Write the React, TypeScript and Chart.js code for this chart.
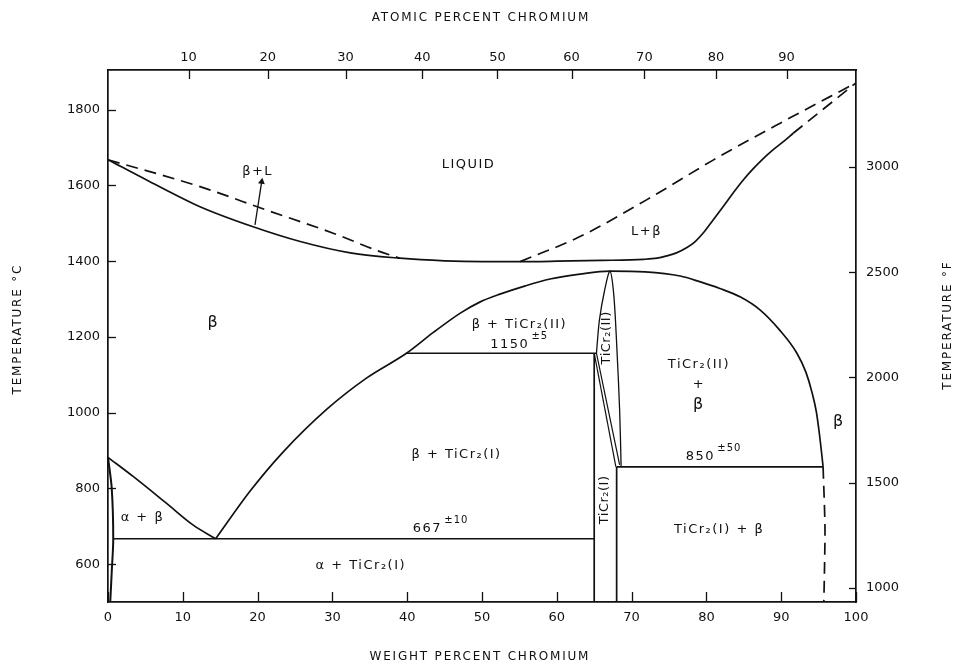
import React, { useEffect, useRef } from 'react';
import { Chart, registerables } from 'chart.js';

Chart.register(...registerables);

// ---- axis ticks ----
const weightTicks = [0, 10, 20, 30, 40, 50, 60, 70, 80, 90, 100];
const atomicTicks = [10, 20, 30, 40, 50, 60, 70, 80, 90];
const celsiusTicks = [600, 800, 1000, 1200, 1400, 1600, 1800];
const fahrenheitTicks = [1000, 1500, 2000, 2500, 3000];

const T_MIN = 500;
const T_MAX = 1905;

// ---- phase boundaries: [weight % Cr, temperature °C] ----
const liquidusSolid = [
  [0, 1668], [5.6, 1610], [12.3, 1544], [19.4, 1491], [25.7, 1452], [32.4, 1422],
  [39, 1408], [45, 1401], [50, 1399], [55, 1399], [60, 1400], [66, 1402],
  [71.6, 1405], [73.4, 1408], [74.7, 1414], [76.0, 1422], [77.4, 1436], [78.5, 1452],
  [79.6, 1475], [80.9, 1509], [82.3, 1546], [83.6, 1581], [84.9, 1614], [86.3, 1645],
  [87.6, 1671], [88.9, 1694], [90.3, 1716], [91.6, 1738],
];
const liquidusLeftDashed = [
  [0, 1668], [12.3, 1597], [21.2, 1535], [30.1, 1474], [36, 1428], [39, 1408],
];
const liquidusRightDashed = [
  [55.1, 1399], [63.1, 1465], [72.0, 1562], [80.9, 1667], [89.8, 1764], [100, 1871],
];
const solidusCrDashed = [[91.6, 1738], [100, 1871]];

const betaSolvusDome = [
  [14.4, 667], [19.0, 793], [23.4, 896], [29.3, 1010], [34.6, 1092], [39.9, 1157],
  [43.5, 1212], [47.1, 1263], [49.7, 1292], [52.4, 1313], [55.8, 1335], [59.1, 1353],
  [63.1, 1366], [67.1, 1374], [71.8, 1372], [76.5, 1361], [79.1, 1346], [81.8, 1328],
  [84.5, 1306], [87.2, 1271], [89.8, 1218], [92.1, 1157], [93.3, 1107], [94.1, 1055],
  [94.7, 1002], [95.1, 945], [95.45, 885], [95.6, 857],
];
const betaSolvusDashed = [[95.6, 857], [95.85, 700], [95.8, 600], [95.7, 500]];

const betaTransus = [[0, 882], [3.4, 831], [7.8, 761], [11.4, 703], [14.4, 667]];
const alphaSolvus = [[0, 882], [0.5, 800], [0.7, 667], [0.5, 580], [0.3, 500]];

const eutectoid667 = [[0.7, 667], [65, 667]];
const peritectoid1150 = [[39.9, 1157], [65.3, 1157]];
const eutectoid850 = [[68, 857], [95.6, 857]];
const ticr2ILeft = [[65, 1157], [65, 500]];
const ticr2IRight = [[68, 857], [68, 500]];
const ticr2Slant1 = [[65, 1157], [67.9, 857]];
const ticr2Slant2 = [[65.3, 1157], [68.4, 862]];
const ticr2IILens = [
  [65.3, 1157], [65.7, 1245], [66.4, 1324], [67.1, 1374], [67.6, 1315],
  [68.0, 1183], [68.4, 1007], [68.6, 857],
];
const arrowBetaL = [[19.65, 1496], [20.55, 1610]];

// ---- annotations (anchor in data units) ----
const regionLabels = [
  { text: 'LIQUID', x: 48.1, y: 1655 },
  { text: 'β+L', x: 19.9, y: 1636 },
  { text: 'L+β', x: 71.9, y: 1477 },
  { text: 'β', x: 14.0, y: 1237, size: 16 },
  { text: 'β + TiCr₂(II)', x: 54.9, y: 1232 },
  { text: '1150', x: 53.6, y: 1179, sup: '±5' },
  { text: 'TiCr₂(II)', x: 66.7, y: 1197, rot: -90, spacing: 0.5 },
  { text: 'TiCr₂(II)', x: 78.9, y: 1126 },
  { text: '+', x: 78.9, y: 1073 },
  { text: 'β', x: 78.9, y: 1020, size: 16 },
  { text: 'β', x: 97.6, y: 975, size: 16 },
  { text: 'β + TiCr₂(I)', x: 46.5, y: 888 },
  { text: 'TiCr₂(I)', x: 66.4, y: 769, rot: -90, spacing: 0.5 },
  { text: '850', x: 79.1, y: 885, sup: '±50' },
  { text: 'α + β', x: 4.5, y: 722 },
  { text: '667', x: 42.6, y: 695, sup: '±10' },
  { text: 'α + TiCr₂(I)', x: 33.7, y: 595 },
  { text: 'TiCr₂(I) + β', x: 81.6, y: 690 },
];

const TI_MASS = 47.87;
const CR_MASS = 52.0;
const atomicToWeight = (a: number) => (100 * a * CR_MASS) / (a * CR_MASS + (100 - a) * TI_MASS);
const cToF = (c: number) => c * 1.8 + 32;

const FONT = '"DejaVu Sans", sans-serif';
const INK = '#111';

const pts = (arr: number[][]) => arr.map(([x, y]) => ({ x, y }));

function line(data: number[][], opts: any = {}) {
  return {
    data: pts(data),
    showLine: true,
    borderColor: INK,
    backgroundColor: INK,
    borderWidth: 1.7,
    pointRadius: 0,
    pointHoverRadius: 0,
    tension: 0,
    fill: false,
    ...opts,
  };
}
const smooth = { cubicInterpolationMode: 'monotone' };
const DASH = [12, 7];

const drawText = (ctx: any, text: string, x: number, y: number, rot: number, size: number, spacing: number) => {
  ctx.save();
  ctx.translate(x, y);
  if (rot) ctx.rotate((rot * Math.PI) / 180);
  ctx.font = `${size}px ${FONT}`;
  ctx.letterSpacing = `${spacing}px`;
  ctx.textAlign = 'center';
  ctx.textBaseline = 'middle';
  ctx.fillText(text, spacing / 2, 0);
  ctx.restore();
};

const annotationPlugin = {
  id: 'phaseAnnotations',
  beforeDatasetsDraw(chart: any) {
    // inward tick marks on all four axes
    const { ctx, chartArea, scales } = chart;
    const { left, right, top, bottom } = chartArea;
    ctx.save();
    ctx.strokeStyle = INK;
    ctx.lineWidth = 1.3;
    const marks = (scale: any, len: number, side: string) => {
      for (const t of scale.ticks) {
        const p = Math.round(scale.getPixelForValue(t.value)) + 0.5;
        ctx.beginPath();
        if (side === 'bottom') { ctx.moveTo(p, bottom); ctx.lineTo(p, bottom - len); }
        if (side === 'top') { ctx.moveTo(p, top); ctx.lineTo(p, top + len); }
        if (side === 'left') { ctx.moveTo(left, p); ctx.lineTo(left + len, p); }
        if (side === 'right') { ctx.moveTo(right, p); ctx.lineTo(right - len, p); }
        ctx.stroke();
      }
    };
    marks(scales.x, 10, 'bottom');
    marks(scales.x2, 9, 'top');
    marks(scales.y, 8, 'left');
    marks(scales.y2, 7, 'right');
    ctx.restore();
  },
  afterDatasetsDraw(chart: any) {
    const { ctx, scales, chartArea } = chart;
    const xs = scales.x;
    const ys = scales.y;
    ctx.save();
    ctx.fillStyle = INK;
    for (const l of regionLabels as any[]) {
      const px = xs.getPixelForValue(l.x);
      const py = ys.getPixelForValue(l.y);
      const size = l.size || 13;
      const spacing = l.spacing ?? 1.5;
      drawText(ctx, l.text, px, py, l.rot || 0, size, spacing);
      if (l.sup) {
        ctx.save();
        ctx.font = `${size}px ${FONT}`;
        ctx.letterSpacing = `${spacing}px`;
        const w = ctx.measureText(l.text).width;
        ctx.font = `10px ${FONT}`;
        ctx.letterSpacing = '1px';
        ctx.textAlign = 'left';
        ctx.textBaseline = 'middle';
        ctx.fillText(l.sup, px + w / 2 + 3, py - 8);
        ctx.restore();
      }
    }
    // axis titles
    const cx = (chartArea.left + chartArea.right) / 2;
    const cy = (chartArea.top + chartArea.bottom) / 2;
    drawText(ctx, 'ATOMIC PERCENT CHROMIUM', cx - 2, 18, 0, 12, 1.8);
    drawText(ctx, 'WEIGHT PERCENT CHROMIUM', cx - 3, 657, 0, 12, 1.8);
    drawText(ctx, 'TEMPERATURE °C', 18, cy - 6, -90, 12, 1.8);
    drawText(ctx, 'TEMPERATURE °F', chart.width - 7, cy - 10, -90, 12, 1.8);
    ctx.restore();
  },
};

export default function App() {
  const canvasRef = useRef<HTMLCanvasElement | null>(null);

  useEffect(() => {
    if (!canvasRef.current) return;
    const tickFont = { family: FONT, size: 13 };
    const border = { display: true, color: INK, width: 1.7 };
    const grid = { drawOnChartArea: false, drawTicks: false, color: INK };
    const plain = (v: any) => String(v);

    const chart = new Chart(canvasRef.current, {
      type: 'scatter',
      data: {
        datasets: [
          line(liquidusSolid, smooth),
          line(liquidusLeftDashed, { ...smooth, borderDash: DASH }),
          line(liquidusRightDashed, { ...smooth, borderDash: DASH }),
          line(solidusCrDashed, { borderDash: DASH }),
          line(betaSolvusDome, smooth),
          line(betaSolvusDashed, { tension: 0.3, borderDash: DASH }),
          line(betaTransus, smooth),
          line(alphaSolvus, { tension: 0.3, borderWidth: 2 }),
          line(eutectoid667),
          line(peritectoid1150),
          line(eutectoid850),
          line(ticr2ILeft),
          line(ticr2IRight),
          line(ticr2Slant1, { borderWidth: 1.2 }),
          line(ticr2Slant2, { borderWidth: 1.2 }),
          line(ticr2IILens, { tension: 0.3, borderWidth: 1.3 }),
          line(arrowBetaL, {
            borderWidth: 1.3,
            pointRadius: [0, 4],
            pointStyle: 'triangle',
            pointRotation: 9,
            pointBorderWidth: 0,
            pointBackgroundColor: INK,
          }),
        ] as any,
      },
      options: {
        animation: false,
        responsive: true,
        maintainAspectRatio: false,
        layout: { padding: 0 },
        events: [],
        plugins: { legend: { display: false }, tooltip: { enabled: false }, title: { display: false } },
        scales: {
          x: {
            type: 'linear',
            position: 'bottom',
            min: 0,
            max: 100,
            border,
            grid,
            afterBuildTicks: (s: any) => { s.ticks = weightTicks.map((v) => ({ value: v })); },
            afterFit: (s: any) => { s.height = 62; },
            ticks: { font: tickFont, color: INK, padding: 8, autoSkip: false, maxRotation: 0, callback: plain },
          },
          x2: {
            type: 'linear',
            position: 'top',
            min: 0,
            max: 100,
            border,
            grid,
            afterBuildTicks: (s: any) => { s.ticks = atomicTicks.map((a) => ({ value: atomicToWeight(a) })); },
            afterFit: (s: any) => { s.height = 70; },
            ticks: {
              font: tickFont,
              color: INK,
              padding: 5,
              autoSkip: false,
              maxRotation: 0,
              callback: (_v: any, i: number) => String(atomicTicks[i]),
            },
          },
          y: {
            type: 'linear',
            position: 'left',
            min: T_MIN,
            max: T_MAX,
            border,
            grid,
            afterBuildTicks: (s: any) => { s.ticks = celsiusTicks.map((v) => ({ value: v })); },
            afterFit: (s: any) => { s.width = 108; },
            ticks: { font: tickFont, color: INK, padding: 8, autoSkip: false, callback: plain },
          },
          y2: {
            type: 'linear',
            position: 'right',
            min: cToF(T_MIN),
            max: cToF(T_MAX),
            border,
            grid,
            afterBuildTicks: (s: any) => { s.ticks = fahrenheitTicks.map((v) => ({ value: v })); },
            afterFit: (s: any) => { s.width = 99; },
            ticks: { font: tickFont, color: INK, padding: 10, autoSkip: false, callback: plain },
          },
        } as any,
      },
      plugins: [annotationPlugin],
    });
    return () => chart.destroy();
  }, []);

  return (
    <div style={{ position: 'fixed', left: 0, top: 0, width: 955, height: 664, background: '#fff' }}>
      <canvas ref={canvasRef} />
    </div>
  );
}
